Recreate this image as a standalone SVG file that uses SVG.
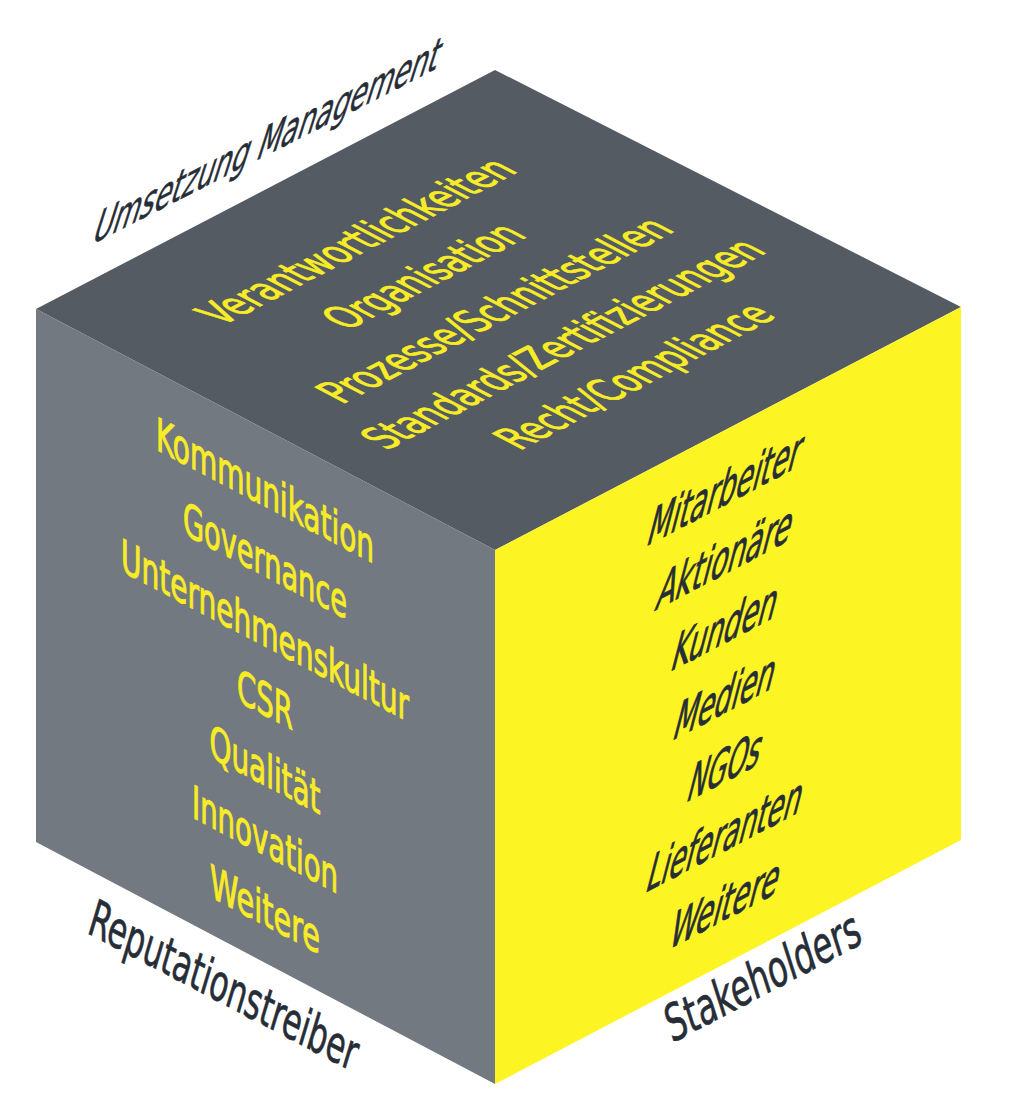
<svg xmlns="http://www.w3.org/2000/svg" width="1024" height="1118" viewBox="0 0 1024 1118">
<style>
  text { font-family: "Liberation Sans Narrow", "DejaVu Sans Condensed", "Liberation Sans", sans-serif; text-anchor: middle; }
  .face-top { fill: #545b62; }
  .face-left { fill: #737980; }
  .face-right { fill: #fdf424; }
  .ty { fill: #f8ec26; stroke: #f8ec26; stroke-width: 1; font-size: 47px; }
  .ly { fill: #f8ec26; stroke: #f8ec26; stroke-width: 1; font-size: 46px; }
  .rd { fill: #262d36; stroke: #262d36; stroke-width: 0.9; font-size: 54px; }
  .lab { fill: #262d36; stroke: #262d36; stroke-width: 0.6; font-size: 48px; }
</style>
<rect width="1024" height="1118" fill="#ffffff"/>

<g id="face-top">
  <polygon class="face-top" points="495,70 961,307 495,550 36,309"/>
  <text class="ty" transform="translate(370.6,248.8) matrix(0.8827,-0.4596,0.8827,0.4635,0,0)" textLength="336" lengthAdjust="spacingAndGlyphs">Verantwortlichkeiten</text>
  <text class="ty" transform="translate(437.8,283.5) matrix(0.8827,-0.4596,0.8827,0.4635,0,0)" textLength="205" lengthAdjust="spacingAndGlyphs">Organisation</text>
  <text class="ty" transform="translate(508.9,317.6) matrix(0.8827,-0.4596,0.8827,0.4635,0,0)" textLength="378" lengthAdjust="spacingAndGlyphs">Prozesse/Schnittstellen</text>
  <text class="ty" transform="translate(577.1,351.3) matrix(0.8827,-0.4596,0.8827,0.4635,0,0)" textLength="432" lengthAdjust="spacingAndGlyphs">Standards/Zertifizierungen</text>
  <text class="ty" transform="translate(648.4,383.7) matrix(0.8827,-0.4596,0.8827,0.4635,0,0)" textLength="292" lengthAdjust="spacingAndGlyphs">Recht/Compliance</text>
</g>

<g id="face-left">
  <polygon class="face-left" points="36,309 495,550 495,1084 36,842"/>
  <text class="ly" transform="translate(265,506.6) matrix(1,0.525,0,1,0,0)" textLength="218" lengthAdjust="spacingAndGlyphs">Kommunikation</text>
  <text class="ly" transform="translate(265,576.6) matrix(1,0.525,0,1,0,0)" textLength="164" lengthAdjust="spacingAndGlyphs">Governance</text>
  <text class="ly" transform="translate(265,646.6) matrix(1,0.525,0,1,0,0)" textLength="288" lengthAdjust="spacingAndGlyphs">Unternehmenskultur</text>
  <text class="ly" transform="translate(265,715.6) matrix(1,0.525,0,1,0,0)" textLength="56" lengthAdjust="spacingAndGlyphs">CSR</text>
  <text class="ly" transform="translate(265,785.6) matrix(1,0.525,0,1,0,0)" textLength="111" lengthAdjust="spacingAndGlyphs">Qualität</text>
  <text class="ly" transform="translate(265,855.6) matrix(1,0.525,0,1,0,0)" textLength="146" lengthAdjust="spacingAndGlyphs">Innovation</text>
  <text class="ly" transform="translate(265,925.6) matrix(1,0.525,0,1,0,0)" textLength="110" lengthAdjust="spacingAndGlyphs">Weitere</text>
</g>

<g id="face-right">
  <polygon class="face-right" points="495,550 961,307 961,840 495,1084"/>
  <text class="rd" transform="translate(721,506.9) matrix(1,-0.523,-0.26,1,0,0)" textLength="152" lengthAdjust="spacingAndGlyphs">Mitarbeiter</text>
  <text class="rd" transform="translate(721,575.9) matrix(1,-0.523,-0.26,1,0,0)" textLength="134" lengthAdjust="spacingAndGlyphs">Aktionäre</text>
  <text class="rd" transform="translate(721,644.9) matrix(1,-0.523,-0.26,1,0,0)" textLength="104" lengthAdjust="spacingAndGlyphs">Kunden</text>
  <text class="rd" transform="translate(721,714.9) matrix(1,-0.523,-0.26,1,0,0)" textLength="100" lengthAdjust="spacingAndGlyphs">Medien</text>
  <text class="rd" transform="translate(721,783.9) matrix(1,-0.523,-0.26,1,0,0)" textLength="72" lengthAdjust="spacingAndGlyphs">NGOs</text>
  <text class="rd" transform="translate(721,852.9) matrix(1,-0.523,-0.26,1,0,0)" textLength="154" lengthAdjust="spacingAndGlyphs">Lieferanten</text>
  <text class="rd" transform="translate(721,921.9) matrix(1,-0.523,-0.26,1,0,0)" textLength="108" lengthAdjust="spacingAndGlyphs">Weitere</text>
</g>

<g id="labels">
  <text id="label-top" class="lab" transform="translate(263,157) matrix(1,-0.51,-0.32,1,0,0)" textLength="345" lengthAdjust="spacingAndGlyphs">Umsetzung Management</text>
  <text id="label-left" class="lab" transform="translate(219,1002) matrix(1,0.523,-0.3,1,0,0)" textLength="266" lengthAdjust="spacingAndGlyphs">Reputationstreiber</text>
  <text id="label-right" class="lab" transform="translate(768,993) matrix(1,-0.523,0.32,1,0,0)" textLength="192" lengthAdjust="spacingAndGlyphs">Stakeholders</text>
</g>
</svg>
